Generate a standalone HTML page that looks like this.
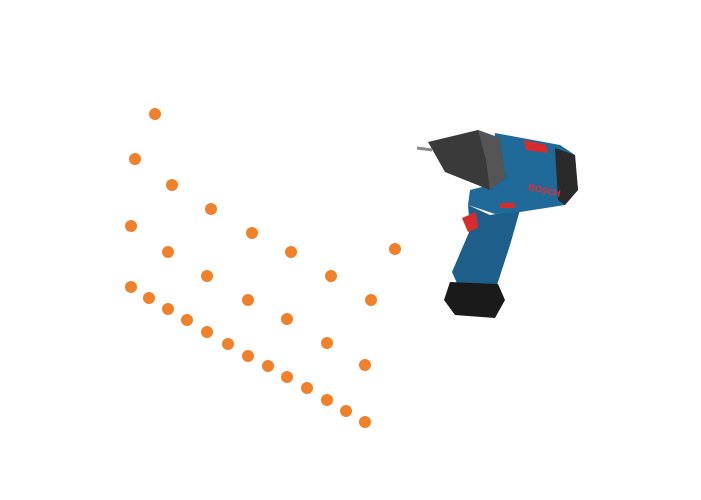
<!DOCTYPE html>
<html><head><style>
html,body{margin:0;padding:0;background:#fff;}
svg{display:block;}
</style></head><body>
<svg width="701" height="500" viewBox="0 0 701 500" xmlns="http://www.w3.org/2000/svg">
<g fill="#F0812A">
<circle cx="155" cy="114" r="6"/><circle cx="135" cy="159" r="6"/><circle cx="172" cy="185" r="6"/>
<circle cx="211" cy="209" r="6"/><circle cx="131" cy="226" r="6"/><circle cx="252" cy="233" r="6"/>
<circle cx="168" cy="252" r="6"/><circle cx="291" cy="252" r="6"/><circle cx="395" cy="249" r="6"/>
<circle cx="207" cy="276" r="6"/><circle cx="331" cy="276" r="6"/><circle cx="131" cy="287" r="6"/>
<circle cx="149" cy="298" r="6"/><circle cx="248" cy="300" r="6"/><circle cx="371" cy="300" r="6"/>
<circle cx="168" cy="309" r="6"/><circle cx="187" cy="320" r="6"/><circle cx="287" cy="319" r="6"/>
<circle cx="207" cy="332" r="6"/><circle cx="228" cy="344" r="6"/><circle cx="327" cy="343" r="6"/>
<circle cx="248" cy="356" r="6"/><circle cx="268" cy="366" r="6"/><circle cx="365" cy="365" r="6"/>
<circle cx="287" cy="377" r="6"/><circle cx="307" cy="388" r="6"/><circle cx="327" cy="400" r="6"/>
<circle cx="346" cy="411" r="6"/><circle cx="365" cy="422" r="6"/>
</g>
<!-- drill -->
<polygon points="468,205 490,215 520,210 510,245 497,285 460,290 452,272 470,230" fill="#1d5f8a"/>
<polygon points="450,282 498,284 505,300 495,318 455,315 444,300" fill="#1a1a1a"/>
<polygon points="495,133 560,145 575,155 578,190 565,205 520,212 495,214 468,205 470,190 490,185" fill="#1f6a99"/>
<polygon points="555,148 575,155 578,190 565,205 558,200" fill="#2a2a2a"/>
<polygon points="428,142 478,130 500,138 505,178 490,190 445,172" fill="#3a3a3a"/>
<polygon points="478,130 500,138 505,178 490,190 486,160" fill="#555"/>
<line x1="417" y1="148" x2="432" y2="150" stroke="#888" stroke-width="3"/>
<polygon points="524,140 546,145 548,153 526,150" fill="#d92b2b"/>
<polygon points="462,218 476,212 478,228 468,232" fill="#d92b2b"/>
<polygon points="500,203 515,203 515,208 500,208" fill="#d92b2b"/>
<text x="528" y="190" font-family="Liberation Sans, sans-serif" font-size="9" font-weight="bold" fill="#e03030" transform="rotate(12 528 190)">BOSCH</text>
</svg>
</body></html>
